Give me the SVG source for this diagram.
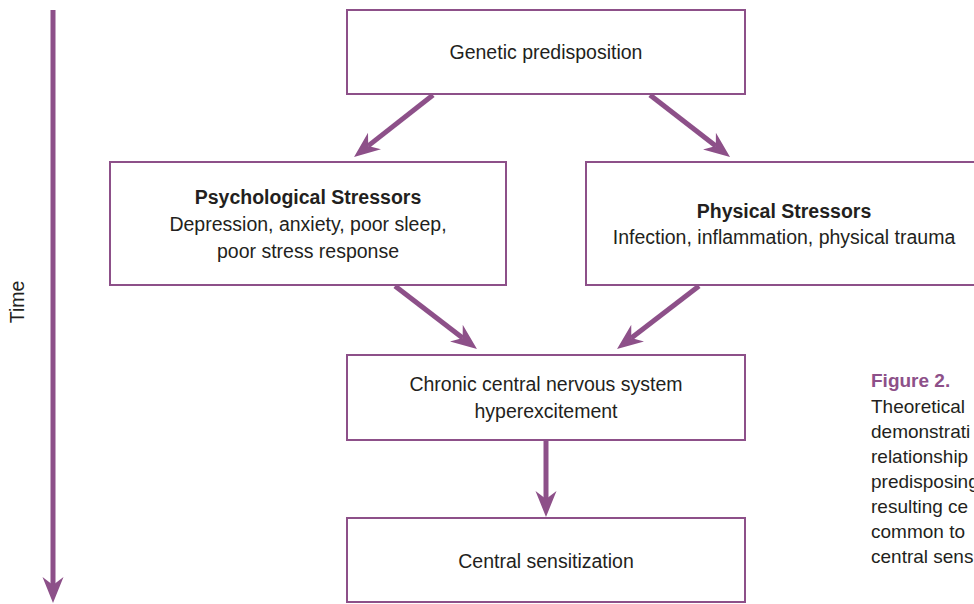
<svg xmlns="http://www.w3.org/2000/svg" width="974" height="604" viewBox="0 0 974 604">
<style>
.box{fill:#ffffff;stroke:#8d5089;stroke-width:2}
.t{font-family:"Liberation Sans",Arial,sans-serif;font-size:19.5px;fill:#231f20;text-anchor:middle}
.b{font-weight:bold}
.cap{font-family:"Liberation Sans",Arial,sans-serif;font-size:19px;fill:#231f20}
.conn{stroke:#8d5089;stroke-width:5;fill:none;marker-end:url(#ah)}
</style>
<defs>
<marker id="ah" markerUnits="userSpaceOnUse" viewBox="-26 -11 26 22" markerWidth="26" markerHeight="22" refX="-18" refY="0" orient="auto">
<path d="M0,0 L-26,-10.5 L-18,0 L-26,10.5 Z" fill="#8d5089"/>
</marker>
</defs>
<rect width="974" height="604" fill="#ffffff"/>
<g id="connectors">
<line class="conn" x1="53" y1="10" x2="53" y2="585"/>
<line class="conn" x1="433" y1="95" x2="368.2" y2="145.9"/>
<line class="conn" x1="650" y1="95" x2="715.8" y2="146"/>
<line class="conn" x1="395" y1="286" x2="462.7" y2="338"/>
<line class="conn" x1="699" y1="286" x2="631.3" y2="338"/>
<line class="conn" x1="546" y1="441" x2="546" y2="499"/>
</g>
<g id="time-label">
<text class="t" transform="translate(24,302) rotate(-90)">Time</text>
</g>
<g id="genetic">
<rect class="box" x="347" y="10" width="398" height="84"/>
<text class="t" x="546" y="59">Genetic predisposition</text>
</g>
<g id="psychological">
<rect class="box" x="110" y="162" width="396" height="123"/>
<text class="t b" x="308" y="204">Psychological Stressors</text>
<text class="t" x="308" y="231">Depression, anxiety, poor sleep,</text>
<text class="t" x="308" y="258">poor stress response</text>
</g>
<g id="physical">
<rect class="box" x="586" y="162" width="400" height="123"/>
<text class="t b" x="784" y="218">Physical Stressors</text>
<text class="t" x="784" y="244">Infection, inflammation, physical trauma</text>
</g>
<g id="chronic">
<rect class="box" x="347" y="355" width="398" height="85"/>
<text class="t" x="546" y="391">Chronic central nervous system</text>
<text class="t" x="546" y="418">hyperexcitement</text>
</g>
<g id="central">
<rect class="box" x="347" y="518" width="398" height="84"/>
<text class="t" x="546" y="568">Central sensitization</text>
</g>
<g id="caption">
<text class="cap b" x="871" y="387" style="fill:#8d5089">Figure 2.</text>
<text class="cap" x="871" y="413">Theoretical</text>
<text class="cap" x="871" y="438">demonstrati</text>
<text class="cap" x="871" y="463">relationship</text>
<text class="cap" x="871" y="488">predisposing</text>
<text class="cap" x="871" y="513">resulting ce</text>
<text class="cap" x="871" y="538">common to</text>
<text class="cap" x="871" y="563">central sens</text>
</g>
</svg>
